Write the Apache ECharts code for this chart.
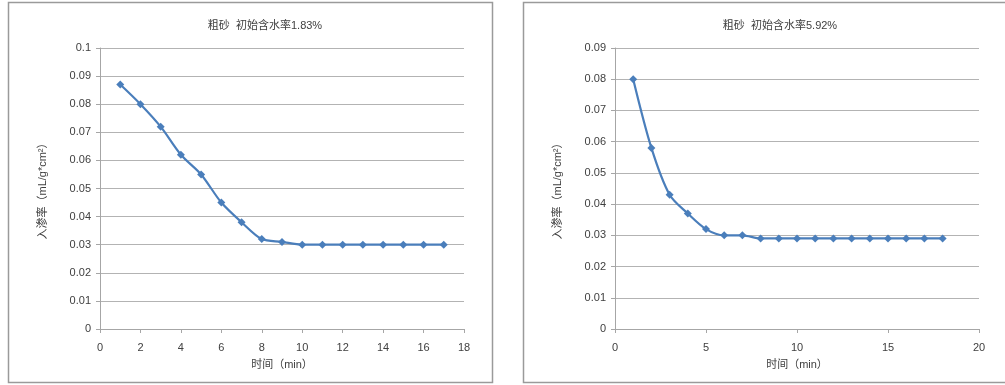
<!DOCTYPE html>
<html><head><meta charset="utf-8">
<script src="https://cdn.jsdelivr.net/npm/echarts@6/dist/echarts.min.js"></script>
<style>html,body{margin:0;padding:0;background:#fff}#c{width:1005px;height:385px}</style>
</head><body><div id="c"></div>
<script>
const titleLeft = "粗砂  初始含水率1.83%";
const titleRight = "粗砂  初始含水率5.92%";
const xName = "时间（min）";
const yName = "入渗率（mL/g*cm²）";
const timeLeft = [1,2,3,4,5,6,7,8,9,10,11,12,13,14,15,16,17];
const rateLeft = [0.087,0.080,0.072,0.062,0.055,0.045,0.038,0.032,0.031,0.030,0.030,0.030,0.030,0.030,0.030,0.030,0.030];
const timeRight = [1,2,3,4,5,6,7,8,9,10,11,12,13,14,15,16,17,18];
const rateRight = [0.080,0.058,0.043,0.037,0.032,0.030,0.030,0.029,0.029,0.029,0.029,0.029,0.029,0.029,0.029,0.029,0.029,0.029];

const font = "'Liberation Sans', 'Noto Sans CJK SC', sans-serif";
const txt = '#404040';
const blue = '#4a7ebb';
function xAxis(gi, max, interval){
  return {type:'value', gridIndex:gi, min:0, max:max, interval:interval,
    name:xName, nameLocation:'middle', nameGap:30,
    nameTextStyle:{color:txt,fontSize:11,fontFamily:font},
    axisLine:{show:true,lineStyle:{color:'#a6a6a6'}},
    axisTick:{show:true,length:4,lineStyle:{color:'#a6a6a6'}},
    axisLabel:{color:txt,fontSize:11,fontFamily:font,margin:13},
    splitLine:{show:false}};
}
function yAxis(gi, max){
  return {type:'value', gridIndex:gi, min:0, max:max, interval:0.01,
    name:yName, nameLocation:'middle', nameGap:52, nameRotate:90,
    nameTextStyle:{color:txt,fontSize:11,fontFamily:font},
    axisLine:{show:true,lineStyle:{color:'#a6a6a6'}},
    axisTick:{show:true,length:4,lineStyle:{color:'#a6a6a6'}},
    axisLabel:{color:txt,fontSize:11,fontFamily:font,margin:9,
      formatter:v=>String(+v.toFixed(2))},
    splitLine:{show:true,lineStyle:{color:'#b3b3b3',width:1}}};
}
function series(gi, xs, ys){
  return {type:'line', xAxisIndex:gi, yAxisIndex:gi, smooth:0.3,
    data:xs.map((x,i)=>[x,ys[i]]), symbol:'diamond', symbolSize:8,
    lineStyle:{color:blue,width:2.2}, itemStyle:{color:blue}, animation:false};
}
const chart = echarts.init(document.getElementById('c'));
chart.setOption({
  animation:false,
  title:[
    {text:titleLeft, left:260, top:15, textAlign:'center', textStyle:{fontSize:11,fontWeight:'normal',color:txt,fontFamily:font}},
    {text:titleRight, left:775, top:15, textAlign:'center', textStyle:{fontSize:11,fontWeight:'normal',color:txt,fontFamily:font}}
  ],
  graphic:[
    {type:'rect', shape:{x:8.5,y:2.5,width:484,height:380}, style:{fill:'none',stroke:'#9a9a9a',lineWidth:1.5}, silent:true},
    {type:'rect', shape:{x:523.5,y:2.5,width:490,height:380}, style:{fill:'none',stroke:'#9a9a9a',lineWidth:1.5}, silent:true}
  ],
  grid:[
    {left:100, top:48, width:364, height:281},
    {left:615, top:48, width:364, height:281}
  ],
  xAxis:[xAxis(0,18,2), xAxis(1,20,5)],
  yAxis:[yAxis(0,0.1), yAxis(1,0.09)],
  series:[series(0,timeLeft,rateLeft), series(1,timeRight,rateRight)]
});
</script></body></html>
